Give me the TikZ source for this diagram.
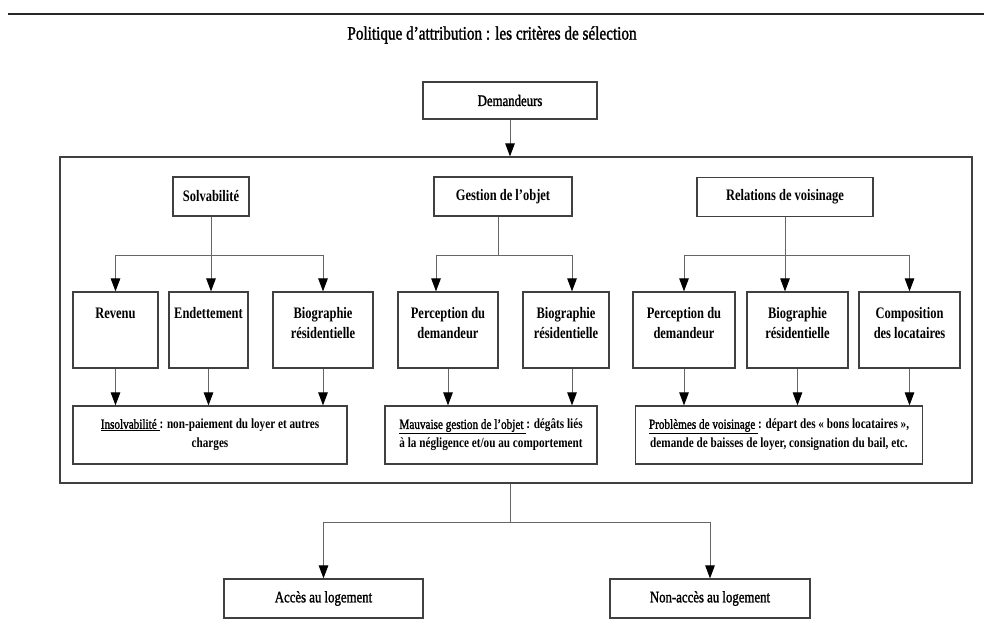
\documentclass[tikz,border=0pt]{standalone}
\usepackage{fontspec}
\setmainfont{Liberation Serif}[FakeStretch=0.8]
\newfontfamily\medfam{Liberation Serif}[FakeStretch=0.8, FakeBold=1.5]
\newfontfamily\labfam{Liberation Serif}[FakeStretch=0.78]
\usetikzlibrary{arrows.meta}
\newcommand\labf{\labfam\bfseries\fontsize{16}{20.5}\selectfont}
\newcommand\botf{\bfseries\fontsize{14}{19}\selectfont}
\newcommand\regf{\medfam\fontsize{16}{20}\selectfont}
\newcommand\ul[1]{\underline{{\mdseries\medfam #1}\ }}
\newcommand\kidtext[2]{\begin{minipage}[c][76pt][t]{#1}\centering\rule{0pt}{26pt}#2\end{minipage}}
\begin{document}
\begin{tikzpicture}[x=1pt,y=-1pt,
  bx/.style={draw=black!75, line width=1.2pt, inner sep=0pt, align=center},
  ln/.style={draw=black!60, line width=1pt},
  arr/.style={ln, -{Triangle[width=9.5pt,length=13pt,color=black]}}]
\useasboundingbox (0,0) rectangle (984,624);

% top rule and title
\draw[line width=2pt, black!85] (8,14) -- (984,14);
\node[font=\medfam\fontsize{19}{23}\selectfont] (title) at (492,35) {Politique d’attribution : les critères de sélection};

% Demandeurs
\node[bx, font=\regf, minimum width=174pt, minimum height=37pt] (dem) at (510,100.5) {Demandeurs};

% big frame
\node[bx, minimum width=912pt, minimum height=326pt] (big) at (516,320) {};

% level 1
\node[bx, font=\labf, minimum width=76pt, minimum height=39pt] (solv) at (211,196.5) {Solvabilité};
\node[bx, font=\labf, minimum width=138pt, minimum height=39pt] (gest) at (503,196.5) {Gestion de l’objet};
\node[bx, font=\labf, minimum width=176pt, minimum height=39pt] (rel) at (785,197) {Relations de voisinage};

% level 2
\node[bx, font=\labf] (rev) at (115.5,330) {\kidtext{85pt}{Revenu}};
\node[bx, font=\labf] (endt) at (208.5,330) {\kidtext{79pt}{Endettement}};
\node[bx, font=\labf] (bioa) at (323,330) {\kidtext{100pt}{Biographie\\résidentielle}};

\node[bx, font=\labf] (pera) at (448,330) {\kidtext{100pt}{Perception du\\demandeur}};
\node[bx, font=\labf] (biob) at (566,330) {\kidtext{86pt}{Biographie\\résidentielle}};

\node[bx, font=\labf] (perb) at (684,330) {\kidtext{102pt}{Perception du\\demandeur}};
\node[bx, font=\labf] (bioc) at (797.5,330) {\kidtext{101pt}{Biographie\\résidentielle}};
\node[bx, font=\labf] (comp) at (909.5,330) {\kidtext{101pt}{Composition\\des locataires}};

% level 3
\node[bx, font=\botf, minimum width=274pt, minimum height=58pt] (ins) at (210,435)
  {\ul{Insolvabilité}: non-paiement du loyer et autres\\charges};
\node[bx, font=\botf, minimum width=212pt, minimum height=58pt] (mau) at (491,435)
  {\ul{Mauvaise gestion de l’objet}: dégâts liés\\à la négligence et/ou au comportement};
\node[bx, font=\botf, minimum width=287pt, minimum height=58pt] (pro) at (779,435)
  {\ul{Problèmes de voisinage}: départ des « bons locataires »,\\demande de baisses de loyer, consignation du bail, etc.};

% outcomes
\node[bx, font=\regf, minimum width=199pt, minimum height=39pt] (acc) at (323.5,598.5) {Accès au logement};
\node[bx, font=\regf, minimum width=200pt, minimum height=39pt] (non) at (710,598.5) {Non-accès au logement};

% branch points
\coordinate (sb) at (211,255);
\coordinate (gb) at (498,255);
\coordinate (gl) at (436,255);
\coordinate (gr) at (572,255);
\coordinate (rb) at (785,255);
\coordinate (ob) at (510,522);

% connectors
\draw[arr] (dem.south) -- (dem.south |- big.north);

\draw[ln] (solv.south) -- (sb);
\draw[ln] (sb -| rev.north) -- (sb -| bioa.north);
\draw[arr] (sb -| rev.north) -- (rev.north);
\draw[arr] (sb) -- (sb |- endt.north);
\draw[arr] (sb -| bioa.north) -- (bioa.north);

\draw[ln] (gb |- gest.south) -- (gb);
\draw[ln] (gl) -- (gr);
\draw[arr] (gl) -- (gl |- pera.north);
\draw[arr] (gr) -- (gr |- biob.north);

\draw[ln] (rel.south) -- (rb);
\draw[ln] (rb -| perb.north) -- (rb -| comp.north);
\draw[arr] (rb -| perb.north) -- (perb.north);
\draw[arr] (rb) -- (rb |- bioc.north);
\draw[arr] (rb -| comp.north) -- (comp.north);

\draw[arr] (rev.south) -- (rev.south |- ins.north);
\draw[arr] (endt.south) -- (endt.south |- ins.north);
\draw[arr] (bioa.south) -- (bioa.south |- ins.north);

\draw[arr] (pera.south) -- (pera.south |- mau.north);
\draw[arr] (gr |- biob.south) -- (gr |- mau.north);

\draw[arr] (perb.south) -- (perb.south |- pro.north);
\draw[arr] (bioc.south) -- (bioc.south |- pro.north);
\draw[arr] (comp.south) -- (comp.south |- pro.north);

\draw[ln] (ob |- big.south) -- (ob);
\draw[ln] (ob -| acc.north) -- (ob -| non.north);
\draw[arr] (ob -| acc.north) -- (acc.north);
\draw[arr] (ob -| non.north) -- (non.north);
\end{tikzpicture}
\end{document}
